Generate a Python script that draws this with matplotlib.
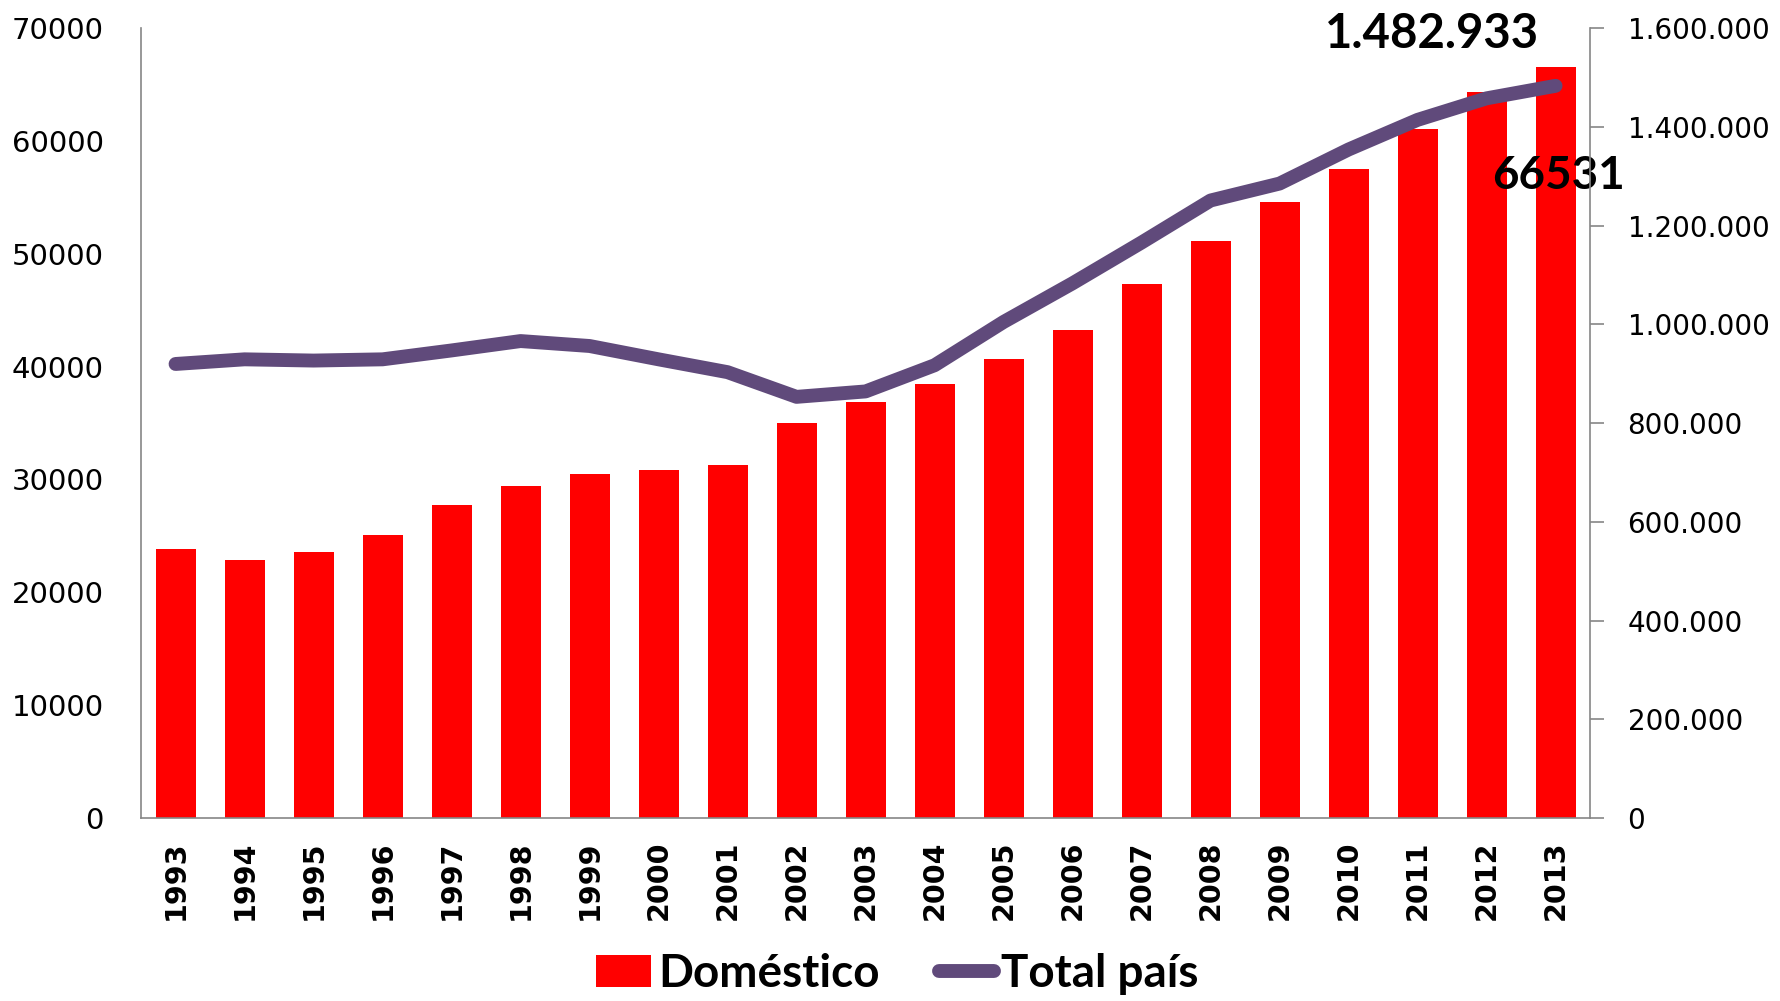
import matplotlib
matplotlib.use("Agg")
import matplotlib.pyplot as plt
from matplotlib.ticker import FuncFormatter

# Data
years = list(range(1993, 2014))
domestico = [23800, 22850, 23550, 25050, 27750, 29450, 30450, 30800, 31250, 35000,
             36900, 38500, 40650, 43250, 47350, 51100, 54600, 57500, 61050, 64350, 66531]
total_pais = [919600, 929000, 926500, 929000, 947000, 966000, 956000, 929000, 903000, 853000,
              864000, 917000, 1004700, 1083000, 1165600, 1250700, 1285000, 1354000, 1414000,
              1457600, 1482933]

BAR_RED = "#FF0000"
LINE_PURPLE = "#604A7B"
SPINE_GRAY = "#868686"

fig = plt.figure(figsize=(17.81, 10.01), dpi=100)
ax = fig.add_axes([0.0792, 0.1828, 0.8136, 0.7892])
ax2 = ax.twinx()

x = list(range(len(years)))
bars = ax.bar(x, domestico, width=0.58, color=BAR_RED, label="Doméstico", zorder=2)
line, = ax2.plot(x, total_pais, color=LINE_PURPLE, linewidth=10, solid_capstyle="round",
                 solid_joinstyle="round", label="Total país", zorder=3)

# Axes limits
ax.set_xlim(-0.5, len(years) - 0.5)
ax.set_ylim(0, 70000)
ax2.set_ylim(0, 1600000)
ax.set_yticks(range(0, 70001, 10000))
ax2.set_yticks(range(0, 1600001, 200000))

# Thousands separator with dots on right axis
ax2.yaxis.set_major_formatter(FuncFormatter(lambda v, p: f"{int(v):,}".replace(",", ".")))

# Tick styling
ax.set_xticks(x)
ax.set_xticklabels([str(y) for y in years], rotation=90, fontsize=20.5,
                   fontweight="bold", family="DejaVu Sans")
ax.tick_params(axis="x", length=0, pad=16)
ax.tick_params(axis="y", length=0, pad=27, labelsize=21)
ax2.tick_params(axis="y", length=10, width=1.2, color=SPINE_GRAY, pad=17, labelsize=20)

# Spines
for a in (ax, ax2):
    a.spines["top"].set_visible(False)
ax.spines["right"].set_visible(False)
ax2.spines["left"].set_visible(False)
ax2.spines["bottom"].set_visible(False)
ax.spines["left"].set_color(SPINE_GRAY)
ax.spines["bottom"].set_color(SPINE_GRAY)
ax2.spines["right"].set_color(SPINE_GRAY)
ax.spines["left"].set_linewidth(1.2)
ax.spines["bottom"].set_linewidth(1.2)
ax2.spines["right"].set_linewidth(1.2)

# Data labels on the last point
last = len(years) - 1
ax2.annotate(f"{total_pais[last]:,}".replace(",", "."), xy=(x[last], total_pais[last]),
             xytext=(-89, 37), textcoords="offset points", ha="center", va="center",
             fontsize=34, fontweight="bold", family="Lato", zorder=5)
ax.annotate(str(domestico[last]), xy=(x[last], domestico[last]),
            xytext=(2, -78), textcoords="offset points", ha="center", va="center",
            fontsize=33, fontweight="bold", family="Lato", zorder=5)

# Legend
fig.legend(handles=[bars, line], loc="center", bbox_to_anchor=(0.504, 0.027), ncol=2,
           frameon=False, prop={"family": "Lato", "weight": "bold", "size": 33},
           handlelength=1.2, handletextpad=0.15, columnspacing=1.3)

fig.savefig("out.png", dpi=100)
